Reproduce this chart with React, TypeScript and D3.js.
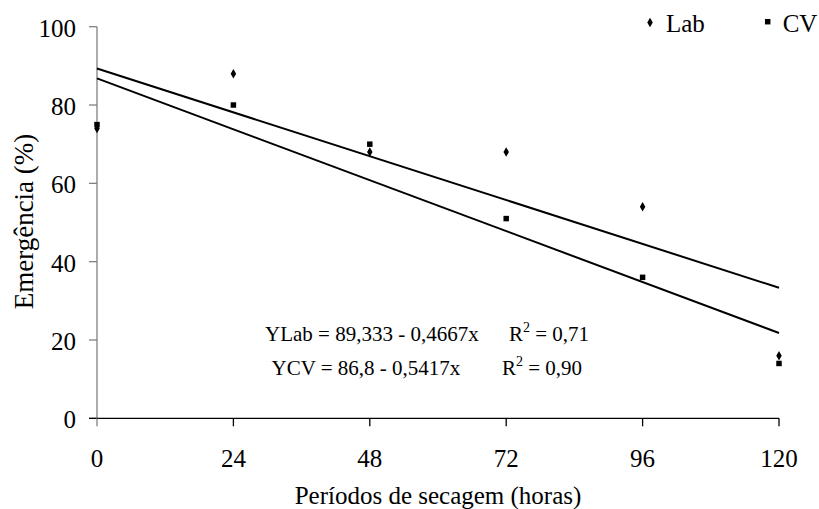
import React from "react";
import * as d3 from "d3";

const hours = [0, 24, 48, 72, 96, 120];
const labValues = [74, 88, 68, 68, 54, 16];
const cvValues = [75, 80, 70, 51, 36, 14];
const yTicks = [0, 20, 40, 60, 80, 100];
const labFit = { a: 89.333, b: -0.4667 };
const cvFit = { a: 86.8, b: -0.5417 };

const W = 819;
const H = 509;
const FONT = "Liberation Serif";

export default function App() {
  const x = d3.scaleLinear().domain([0, 120]).range([97, 779]);
  const y = d3.scaleLinear().domain([0, 100]).range([418.3, 26.7]);
  const line = d3
    .line<number[]>()
    .x((d) => x(d[0]))
    .y((d) => y(d[1]));
  const fitLine = (f: { a: number; b: number }) =>
    line([
      [0, f.a + f.b * 0],
      [120, f.a + f.b * 120],
    ]);
  const diamond = d3.symbol().type(d3.symbolDiamond).size(26)();
  const square = d3.symbol().type(d3.symbolSquare).size(30)();
  const ts = { fontFamily: FONT };

  return (
    <svg width={W} height={H} style={{ position: "absolute", left: 0, top: 0, background: "#fff" }}>
      {/* y axis */}
      <line x1={x(0)} x2={x(0)} y1={y(100)} y2={y(0)} stroke="#808080" strokeWidth={1.3} />
      {yTicks.map((t) => (
        <g key={t}>
          <line x1={x(0) - 8} x2={x(0)} y1={y(t)} y2={y(t)} stroke="#808080" strokeWidth={1.3} />
          <text style={ts} x={x(0) - 21} y={y(t) + 10} textAnchor="end" fontSize={25} fill="#000">
            {t}
          </text>
        </g>
      ))}
      {/* x axis */}
      <line x1={x(0) - 8} x2={x(120)} y1={y(0)} y2={y(0)} stroke="#000" strokeWidth={1.3} />
      {hours.map((t) => (
        <g key={t}>
          <line x1={x(t)} x2={x(t)} y1={y(0)} y2={y(0) + 8} stroke={t === 0 ? "#808080" : "#000"} strokeWidth={1.3} />
          <text style={ts} x={x(t)} y={y(0) + 49} textAnchor="middle" fontSize={25} fill="#000">
            {t}
          </text>
        </g>
      ))}
      <text style={ts} x={438} y={504} textAnchor="middle" fontSize={25} fill="#000">
        Períodos de secagem (horas)
      </text>
      <text style={ts} transform={`translate(33,221.5) rotate(-90)`} textAnchor="middle" fontSize={27} fill="#000">
        Emergência (%)
      </text>

      {/* fit lines */}
      <path d={fitLine(labFit) || ""} stroke="#000" strokeWidth={2} fill="none" />
      <path d={fitLine(cvFit) || ""} stroke="#000" strokeWidth={2} fill="none" />

      {/* points */}
      {hours.map((h, i) => (
        <path key={"l" + i} d={diamond || ""} transform={`translate(${x(h)},${y(labValues[i])})`} fill="#000" />
      ))}
      {hours.map((h, i) => (
        <path key={"c" + i} d={square || ""} transform={`translate(${x(h)},${y(cvValues[i])})`} fill="#000" />
      ))}

      {/* equations */}
      <text style={ts} x={265} y={340.5} fontSize={21} fill="#000">
        YLab = 89,333 - 0,4667x
      </text>
      <text style={ts} x={509} y={340.5} fontSize={21} fill="#000">
        R<tspan dy={-9} fontSize={14}>2</tspan>
        <tspan dy={9}> = 0,71</tspan>
      </text>
      <text style={ts} x={271.5} y={375} fontSize={21} fill="#000">
        YCV = 86,8 - 0,5417x
      </text>
      <text style={ts} x={502} y={375} fontSize={21} fill="#000">
        R<tspan dy={-9} fontSize={14}>2</tspan>
        <tspan dy={9}> = 0,90</tspan>
      </text>

      {/* legend */}
      <path d={diamond || ""} transform="translate(650,22.5)" fill="#000" />
      <text style={ts} x={666} y={31.7} fontSize={25} fill="#000">
        Lab
      </text>
      <path d={square || ""} transform="translate(767.7,21.7)" fill="#000" />
      <text style={ts} x={782.7} y={31.7} fontSize={25} fill="#000">
        CV
      </text>
    </svg>
  );
}
